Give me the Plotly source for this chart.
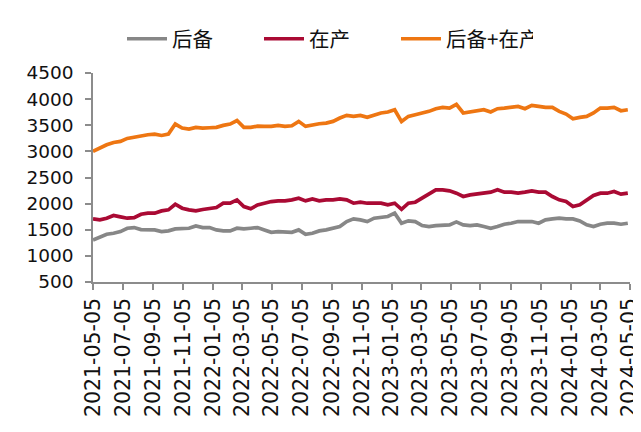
import pandas as pd
import plotly.graph_objects as go

# biweekly observation dates (2021-05-05 ... 2024-05-01)
dates = pd.date_range("2021-05-05", periods=79, freq="14D")

houbei = [1305, 1369, 1414, 1433, 1465, 1529, 1542, 1503, 1497, 1497, 1465, 1478, 1516,
          1529, 1529, 1574, 1542, 1542, 1497, 1478, 1478, 1529, 1516, 1529, 1542, 1497,
          1452, 1465, 1465, 1452, 1497, 1414, 1433, 1478, 1497, 1529, 1561, 1657, 1708,
          1689, 1657, 1721, 1733, 1753, 1817, 1625, 1670, 1657, 1580, 1561, 1580, 1593,
          1593, 1650, 1593, 1580, 1593, 1561, 1529, 1561, 1606, 1625, 1657, 1657, 1657,
          1625, 1689, 1708, 1721, 1708, 1708, 1670, 1593, 1561, 1606, 1625, 1625, 1606, 1625]

zaichan = [1708, 1689, 1721, 1772, 1746, 1721, 1733, 1797, 1817, 1817, 1861, 1881, 1989,
           1912, 1881, 1861, 1887, 1912, 1925, 2008, 2008, 2072, 1944, 1900, 1976, 2008,
           2040, 2053, 2053, 2072, 2104, 2053, 2091, 2053, 2072, 2072, 2091, 2072, 2008,
           2027, 2008, 2008, 2008, 1976, 2008, 1890, 2008, 2027, 2104, 2200, 2264, 2264,
           2245, 2200, 2136, 2168, 2181, 2200, 2219, 2264, 2219, 2219, 2200, 2219, 2245,
           2219, 2219, 2136, 2072, 2040, 1944, 1976, 2072, 2155, 2200, 2200, 2232, 2181, 2200]

total = [2999, 3063, 3127, 3171, 3190, 3248, 3273, 3305, 3318, 3331, 3305, 3331, 3523,
         3446, 3427, 3459, 3446, 3452, 3459, 3497, 3523, 3590, 3459, 3459, 3484, 3478,
         3478, 3497, 3478, 3491, 3574, 3478, 3510, 3529, 3542, 3574, 3638, 3689, 3670,
         3689, 3651, 3689, 3734, 3753, 3797, 3570, 3670, 3702, 3734, 3766, 3817, 3842,
         3829, 3900, 3734, 3753, 3766, 3797, 3753, 3817, 3829, 3842, 3861, 3817, 3881,
         3861, 3842, 3842, 3766, 3714, 3625, 3651, 3670, 3734, 3829, 3829, 3842, 3778, 3797]

tick_dates = ["2021-05-05", "2021-07-05", "2021-09-05", "2021-11-05", "2022-01-05",
              "2022-03-05", "2022-05-05", "2022-07-05", "2022-09-05", "2022-11-05",
              "2023-01-05", "2023-03-05", "2023-05-05", "2023-07-05", "2023-09-05",
              "2023-11-05", "2024-01-05", "2024-03-05", "2024-05-05"]
y_ticks = [500, 1000, 1500, 2000, 2500, 3000, 3500, 4000, 4500]

series = [("后备", houbei, "#878787"), ("在产", zaichan, "#AA0A34"), ("后备+在产", total, "#EE7612")]

fig = go.Figure()
for name, vals, color in series:
    fig.add_trace(go.Scatter(x=dates, y=vals, mode="lines", name=name,
                             line=dict(color=color, width=3.7)))

fig.update_layout(
    width=641, height=432,
    margin=dict(l=85, r=19, t=65, b=158, autoexpand=False),
    paper_bgcolor="white", plot_bgcolor="white",
    showlegend=True,
    legend=dict(orientation="h", x=0.054, xanchor="left", y=1.163, yanchor="middle",
                font=dict(family="Noto Sans CJK SC", size=20.5, color="#111111"),
                itemwidth=40, entrywidth=82, bgcolor="rgba(0,0,0,0)"),
)
fig.update_xaxes(
    type="date", range=["2021-05-05", "2024-05-05 12:00"],
    tickvals=tick_dates, ticktext=tick_dates, tickangle=-90,
    showgrid=False, zeroline=False,
    showline=True, linecolor="#8C8C8C", linewidth=1.5,
    ticks="outside", ticklen=6, tickcolor="#8C8C8C", tickwidth=1.5,
    tickfont=dict(family="DejaVu Sans, sans-serif", size=20.5, color="#111111"),
)
fig.update_yaxes(
    range=[500, 4500], tickvals=y_ticks,
    showgrid=False, zeroline=False,
    showline=True, linecolor="#8C8C8C", linewidth=1.5,
    ticks="outside", ticklen=6, tickcolor="#8C8C8C", tickwidth=1.5,
    ticklabelstandoff=8,
    tickfont=dict(family="DejaVu Sans, sans-serif", size=18.5, color="#111111"),
)
fig.write_html("out.html")
